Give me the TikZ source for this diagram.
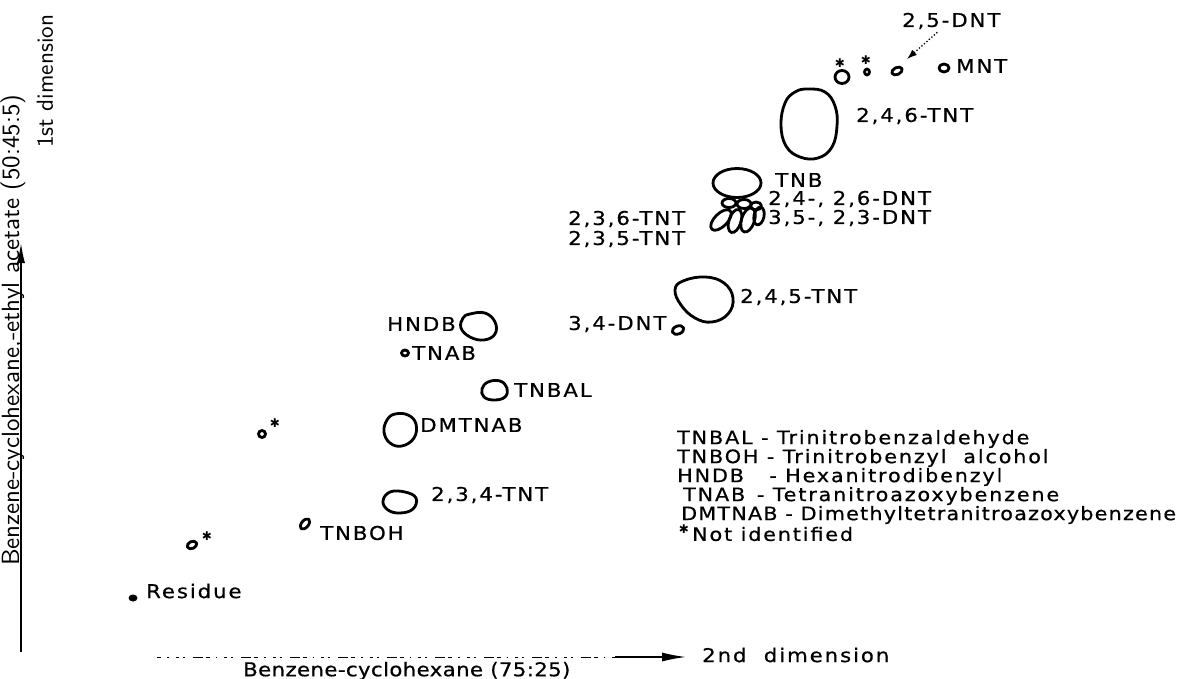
\documentclass[tikz,border=0pt]{standalone}
\usepackage{graphicx}
\usepackage{fontspec}
\newfontfamily\lettering[FakeStretch=1.12,LetterSpace=10,FakeBold=0.6]{DejaVu Sans}
\newfontfamily\symfont{DejaVu Sans}
\usetikzlibrary{arrows.meta}

\begin{document}
\begin{tikzpicture}[x=1pt,y=-1pt,
  spot/.style={line width=2.8pt, line join=round},
  lbl/.style={font=\lettering\fontsize{19}{19}\selectfont, inner sep=0pt, anchor=west},
  legend/.style={font=\lettering\fontsize{18.5}{18.5}\selectfont, inner sep=0pt, anchor=west},
  star/.style={font=\symfont\fontsize{12}{12}\selectfont, inner sep=0pt},
  axislbl/.style={font=\sffamily, inner sep=0pt, rotate=90, anchor=west},
  axisline/.style={line width=1.4pt},
]
\useasboundingbox (0,0) rectangle (1190,679);

% ---------- axes ----------
\coordinate (v0) at (21,652);
\coordinate (v1) at (21,243);
\draw[axisline,-{Latex[length=20pt,width=8pt]}] (v0) -- (v1);
\node[axislbl] (dim1) at (45,148) {\resizebox{133pt}{!}{1st dimension}};
\node[axislbl] (solv1) at (13,566) {\resizebox{471pt}{!}{Benzene-cyclohexane,-ethyl acetate (50:45:5)}};

\coordinate (h0) at (157,657);
\coordinate (hm) at (615,657);
\coordinate (h1) at (686,657);
\draw[line width=0.9pt, dash pattern=on 4pt off 6pt on 1.5pt off 7pt on 3pt off 4pt on 2pt off 8pt on 10pt off 3pt] (h0) -- (hm);
\draw[axisline,-{Latex[length=24pt,width=9pt]}] (hm) -- (h1);
\node[lbl] (dim2) at (702,655) {2nd \ dimension};
\node[lbl] (solv2) at (243,671) {\addfontfeature{LetterSpace=2}Benzene-cyclohexane (75:25)};

% ---------- spots, top right ----------
\draw[spot] (842,77) ellipse[x radius=7, y radius=6.5];
\node[star] (s1) at (840,63) {✱};
\draw[spot] (867,72) ellipse[x radius=2.5, y radius=3];
\node[star] (s2) at (866,60) {✱};
\draw[spot, shift={(897,71)}, rotate=25] (0,0) ellipse[x radius=5.5, y radius=3.5];
\coordinate (dnt25spot) at (907,59);
\node[lbl] (dnt25) at (902,21) {2,5-DNT};
\draw[line width=1.3pt, dotted, -{Latex[length=10pt,width=7pt]}] ([xshift=-14pt,yshift=-3pt]dnt25.south) -- (dnt25spot);

\draw[spot] (944,68) ellipse[x radius=5, y radius=4];
\node[lbl] (mnt) at (956,66) {MNT};

% 2,4,6-TNT
\draw[spot] plot[smooth cycle, tension=0.7] coordinates {
  (808,89) (825,92) (835,106) (837,126) (832,147) (818,158) (800,157) (786,146) (781,125) (785,103) (795,92)};
\node[lbl] (tnt246) at (856,116) {2,4,6-TNT};

% TNB cluster
\draw[spot] (737,183) ellipse[x radius=24, y radius=14.5];
\draw[spot] (729,203) ellipse[x radius=7, y radius=4.5];
\draw[spot] (744,204) ellipse[x radius=7, y radius=4.5];
\draw[spot] (756,206) ellipse[x radius=5.5, y radius=4];
\draw[spot, shift={(721,220)}, rotate=45] (0,0) ellipse[x radius=13, y radius=6.5];
\draw[spot, shift={(735,221)}, rotate=-18] (0,0) ellipse[x radius=6, y radius=12];
\draw[spot, shift={(748,220)}, rotate=-18] (0,0) ellipse[x radius=6.5, y radius=12.5];
\draw[spot, shift={(759,216)}, rotate=-12] (0,0) ellipse[x radius=5, y radius=9];
\node[lbl] (tnb) at (775,180) {TNB};
\node[lbl] (dnt2426) at (768,199) {2,4-, 2,6-DNT};
\node[lbl] (dnt3523) at (768,218) {3,5-, 2,3-DNT};
\node[lbl] (tnt236) at (568,219) {2,3,6-TNT};
\node[lbl] (tnt235) at (568,239) {2,3,5-TNT};

% 2,4,5-TNT and 3,4-DNT
\draw[spot] plot[smooth cycle, tension=0.7] coordinates {
  (683,281) (705,277) (724,283) (733,298) (728,314) (712,322) (695,318) (681,305) (675,290)};
\node[lbl] (tnt245) at (740,297) {2,4,5-TNT};
\draw[spot, shift={(678,330)}, rotate=20] (0,0) ellipse[x radius=6, y radius=4];
\node[lbl] (dnt34) at (568,324) {3,4-DNT};

% middle spots
\draw[spot] plot[smooth cycle, tension=0.7] coordinates {
  (470,314) (485,313) (495,322) (495,334) (484,340) (470,337) (461,328) (463,318)};
\node[lbl, anchor=east] (hndb) at (456,324) {HNDB};
\draw[spot] (405,353) ellipse[x radius=3.5, y radius=3];
\node[lbl] (tnab) at (412,353) {TNAB};
\draw[spot] plot[smooth cycle, tension=0.7] coordinates {
  (488,382) (500,381) (507,388) (505,397) (494,400) (484,397) (482,389)};
\node[lbl] (tnbal) at (514,390) {TNBAL};
\draw[spot] plot[smooth cycle, tension=0.7] coordinates {
  (395,414) (408,415) (416,424) (414,438) (402,446) (390,443) (384,432) (387,420)};
\node[lbl] (dmtnab) at (420,425) {DMTNAB};

\draw[spot] (262,434) ellipse[x radius=3.5, y radius=3.5];
\node[star] (s3) at (275,423) {✱};

\draw[spot] plot[smooth cycle, tension=0.7] coordinates {
  (390,492) (405,492) (416,498) (413,509) (400,513) (388,510) (383,501)};
\node[lbl] (tnt234) at (431,495) {2,3,4-TNT};

\draw[spot, shift={(305,524)}, rotate=50] (0,0) ellipse[x radius=6, y radius=3.5];
\node[lbl] (tnboh) at (320,533) {TNBOH};

\draw[spot, shift={(192,545)}, rotate=25] (0,0) ellipse[x radius=5, y radius=3.5];
\node[star] (s4) at (207,536) {✱};

\fill (133,598) ellipse[x radius=4.5, y radius=3.5];
\node[lbl] (residue) at (146,591) {Residue};

% ---------- legend ----------
\node[legend] (l1) at (677,439) {TNBAL - Trinitrobenzaldehyde};
\node[legend] (l2) at (677,458) {TNBOH - Trinitrobenzyl \ alcohol};
\node[legend] (l3) at (677,477) {HNDB \ \ - Hexanitrodibenzyl};
\node[legend] (l4) at (683,496) {TNAB \,- Tetranitroazoxybenzene};
\node[legend] (l5) at (681,515) {\addfontfeature{LetterSpace=6.5}DMTNAB - Dimethyltetranitroazoxybenzene};
\node[star] (s5) at (684,529) {✱};
\node[legend] (l6) at (692,534) {Not identified};
\end{tikzpicture}
\end{document}
